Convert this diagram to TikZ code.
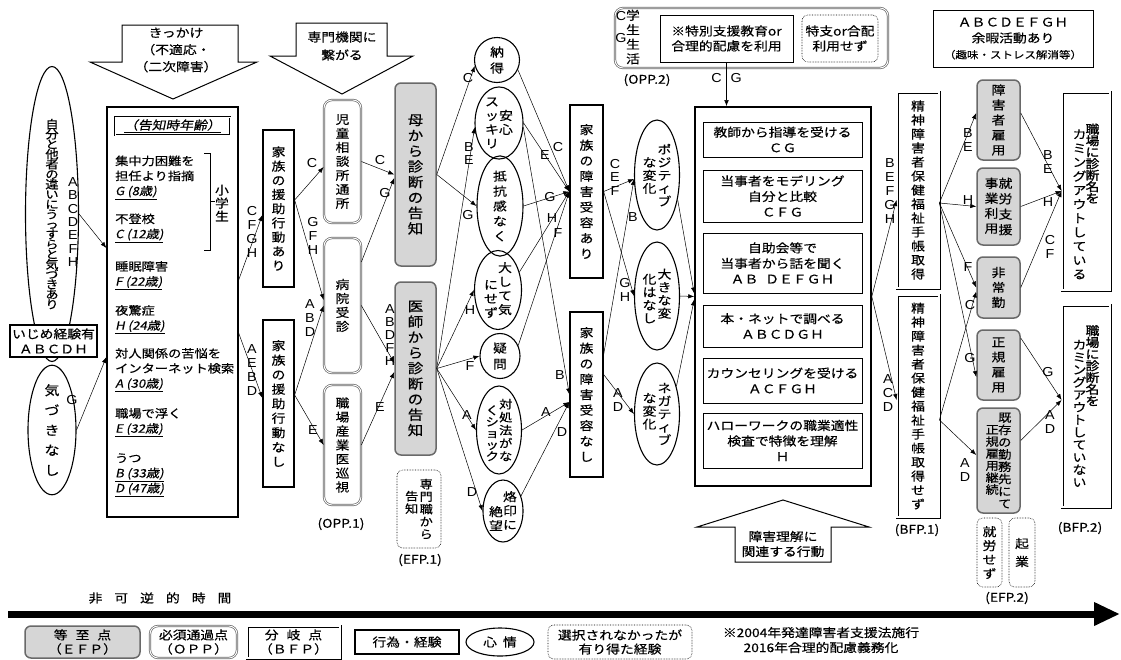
\documentclass[tikz,border=0pt]{standalone}
\usepackage{fontspec}
\setmainfont[FakeStretch=1.15,FakeBold=0.4]{Noto Sans CJK JP}
\newfontfamily\itjp[FakeStretch=1.15,FakeSlant=0.2,FakeBold=0.4]{Noto Sans CJK JP}
\newfontfamily\bfjp[FakeStretch=1.15,FakeBold=1.6]{Noto Sans CJK JP}
\newfontfamily\latin[FakeStretch=1.1]{Liberation Sans}
\usepackage{tikz}
\usetikzlibrary{
  shapes.geometric,
  arrows.meta,
  positioning
}
\definecolor{EfpFill}{RGB}{214,214,214}
\definecolor{EdgeGray}{RGB}{105,105,105}
\newcommand{\jpn}{\fontsize{12}{14}\selectfont}
\newcommand{\padtop}[1]{\rule{0pt}{#1}}

\ExplSyntaxOn
\NewDocumentCommand \tate { O{14pt} m }
  {
    \vtop
      {
        \baselineskip = #1 \scan_stop:
        \lineskiplimit = -\maxdimen
        \tl_map_inline:nn {#2} { \hbox_to_wd:nn { 1em } { \hss ##1 \hss } }
      }
  }
\ExplSyntaxOff

\tikzset{
  act/.style={draw, line width=1.3pt, inner sep=0pt},
  deed/.style={draw, line width=0.8pt, inner sep=0pt, align=center, font=\fontsize{12}{15.5}\selectfont},
  feel/.style={draw, ellipse, line width=1.1pt, inner sep=0pt},
  efp/.style={draw=EdgeGray, fill=EfpFill, line width=1.5pt, rounded corners=6pt, inner sep=0pt},
  opp/.style={draw=EdgeGray, line width=0.7pt, double=white, double distance=0.9pt, rounded corners=8pt, inner sep=0pt},
  bfp/.style={draw, line width=0.8pt, double=white, double distance=1.4pt, inner sep=0pt},
  maybe/.style={draw, densely dotted, line width=0.6pt, rounded corners=6pt, inner sep=0pt},
  sz/.style 2 args={minimum width=#1pt, minimum height=#2pt},
  via/.style={inner sep=0pt, font=\latin\fontsize{13}{14}\selectfont},
  txt/.style={inner sep=0pt, align=center},
  agelist/.style={anchor=west, align=left, inner sep=0pt, font=\fontsize{11.5}{15}\selectfont},
  flow/.style={-{Latex[length=6pt,width=4.5pt]}, line width=0.5pt},
  blockarrow/.style={draw, line width=1pt, fill=white, line join=miter}
}

\begin{document}
\begin{tikzpicture}[x=1pt, y=-1pt, font=\jpn]
\useasboundingbox (0,0) rectangle (1121,659);

\node[feel, sz={53}{295}, font=\fontsize{11.5}{10}\selectfont] (jibun) at (52,214) {\tate[10pt]{自分と他者の違いにうっすらと気づきあり}};
\node[via] (l1) at (73,222) {\tate[13.3pt]{ABCDEFH}};
\node[act, sz={87}{32}, fill=white, align=center, font=\fontsize{12}{15}\selectfont] (ijime) at (53.5,341) {いじめ経験有\\ＡＢＣＤＨ};
\node[feel, sz={48}{122}, font=\fontsize{13}{14}\selectfont] (kizuki) at (52,430) {\tate[20pt]{気づきなし}};
\node[via] (l2) at (72,400) {G};

\draw[blockarrow] (122,25) -- (238,25) -- (238,62) -- (257,62) -- (173,99) -- (90,62) -- (122,62) -- cycle;
\node[txt, font=\fontsize{12}{17}\selectfont] (kikkake) at (176,50) {きっかけ\\（不適応・\\（二次障害）};

\node[act, sz={131}{410}] (kokuchi) at (172.5,312) {};
\node[draw, line width=0.5pt, double=white, double distance=1pt, inner sep=0pt, sz={115}{18}] (nenrei) at (172.5,126) {\underline{\itjp（告知時年齢）}};
\node[agelist] (g1) at (115,177.5) {集中力困難を\\担任より指摘\\\underline{\itjp G (8歳)}};
\node[agelist] (g2) at (115,228) {不登校\\\underline{\itjp C (12歳)}};
\node[agelist] (g3) at (115,275.5) {睡眠障害\\\underline{\itjp F (22歳)}};
\node[agelist] (g4) at (115,319.5) {夜驚症\\\underline{\itjp H (24歳)}};
\node[agelist] (g5) at (115,370) {対人関係の苦悩を\\インターネット検索\\\underline{\itjp A (30歳)}};
\node[agelist] (g6) at (115,422.5) {職場で浮く\\\underline{\itjp E (32歳)}};
\node[agelist] (g7) at (115,475) {うつ\\\underline{\itjp B (33歳)}\\\underline{\itjp D (47歳)}};
\draw (204,153) -- (210,153) -- (210,250) -- (204,250) (210,201) -- (215,201);
\node[inner sep=0pt] (shogaku) at (222,203) {\tate[13pt]{小学生}};

\draw[flow] (jibun.east) -- ([yshift=64pt]kokuchi.west);
\draw[flow] (kizuki.east) -- ([yshift=-45pt]kokuchi.west);

\node[act, sz={31}{157}] (enjoari) at (278.5,208.5) {\tate[14.2pt]{家族の援助行動あり}};
\node[act, sz={31}{167}] (enjonashi) at (278.5,403.5) {\tate[14.5pt]{家族の援助行動なし}};
\draw[flow] ([yshift=32pt]kokuchi.east) -- ([yshift=-6.5pt]enjoari.west);
\node[via] (l3) at (252,232) {\tate[14pt]{CFGH}};
\draw[flow] ([yshift=-21pt]kokuchi.east) -- ([yshift=5.5pt]enjonashi.west);
\node[via] (l4) at (252,370) {\tate[14pt]{AEBD}};

\draw[blockarrow] (296,23) -- (387,23) -- (387,56) -- (413,56) -- (342,94) -- (270,56) -- (296,56) -- cycle;
\node[txt, font=\fontsize{12}{18}\selectfont] (kikan) at (342,46) {専門機関に\\繋がる};

\node[opp, sz={37}{123}] (jido) at (342.5,161.5) {\tate[14pt]{児童相談所通所}};
\node[opp, sz={37}{135}] (byoin) at (342.5,305.5) {\tate[14pt]{病院受診}};
\node[opp, sz={37}{120}] (sangyoi) at (342.5,445) {\tate[14pt]{職場産業医巡視}};
\node[txt] (opp1) at (341,524) {(OPP.1)};
\draw[flow] ([yshift=8.5pt]enjoari.east) -- ([yshift=-5.5pt]jido.west);
\node[via] (l5) at (312,163) {C};
\draw[flow] ([yshift=8.5pt]enjoari.east) -- ([yshift=5.5pt]byoin.west);
\node[via] (l6) at (313,236) {\tate[14pt]{GFH}};
\draw[flow] ([yshift=8.5pt]enjonashi.east) -- (byoin.west);
\node[via] (l7) at (310,318) {\tate[14pt]{ABD}};
\draw[flow] ([yshift=8.5pt]enjonashi.east) -- (sangyoi.west);
\node[via] (l8) at (313,430) {E};

\node[efp, sz={41}{183}, font=\fontsize{13.5}{15}\selectfont] (haha) at (415.5,174.5) {\tate[15.5pt]{母から診断の告知}};
\node[efp, sz={41}{173}, font=\fontsize{13.5}{15}\selectfont] (ishi) at (415.5,368.5) {\tate[15.5pt]{医師から診断の告知}};
\node[maybe, sz={44}{78}, font=\fontsize{11.5}{13}\selectfont] (senmon) at (419,509) {\raisebox{-12pt}{\tate[12.5pt]{告知}}\hspace{3pt}\tate[12.5pt]{専門職から}};
\node[txt] (efp1) at (420,560) {(EFP.1)};
\draw[flow] (jido.east) -- (haha.west);
\node[via] (l9) at (380,160) {C};
\draw[flow] ([yshift=43.5pt]byoin.east) -- ([yshift=-3.5pt]haha.west);
\node[via] (l10) at (385,193) {G};
\draw[flow] (byoin.east) -- ([yshift=5.5pt]ishi.west);
\node[via] (l11) at (390,335) {\tate[13pt]{ABDFH}};
\draw[flow] (sangyoi.east) -- ([yshift=-3.5pt]ishi.west);
\node[via] (l12) at (380,407) {E};

\node[feel, sz={45}{45}] (nattoku) at (497,60) {\tate[16pt]{納得}};
\node[feel, sz={48}{72}] (anshin) at (499,123) {\tate[14pt]{スッキリ}\hspace{2pt}\raisebox{-14pt}{\tate[14pt]{安心}}};
\node[feel, sz={46}{85}] (teiko) at (500,206) {\tate[15pt]{抵抗感なく}};
\node[feel, sz={47}{76}] (taishite) at (498,290) {\raisebox{-17pt}{\tate[14pt]{にせず}}\hspace{2pt}\tate[14pt]{大して気}};
\node[feel, sz={40}{45}] (gimon) at (500,356) {\tate[16pt]{疑問}};
\node[feel, sz={45}{85}, font=\fontsize{11.5}{13}\selectfont] (taisho) at (499,430) {\raisebox{-6pt}{\tate[11.5pt]{くショック}}\hspace{2pt}\tate[13pt]{対処法がな}};
\node[feel, sz={40}{62}] (rakuin) at (503,511) {\raisebox{-15pt}{\tate[14pt]{絶望}}\hspace{2pt}\tate[14pt]{烙印に}};
\draw[flow] (haha.east) -- (nattoku.195);
\node[via] (l13) at (468,78) {C};
\draw[flow] (haha.east) -- (teiko.west);
\node[via] (l14) at (468,215) {G};
\draw[flow] (ishi.east) -- (anshin.190);
\node[via] (l15) at (469,154) {\tate[13pt]{BE}};
\draw[flow] (ishi.east) -- (taishite.west);
\node[via] (l16) at (470,310) {H};
\draw[flow] (ishi.east) -- (gimon.west);
\node[via] (l17) at (470,366) {F};
\draw[flow] (ishi.east) -- (taisho.west);
\node[via] (l18) at (467,415) {A};
\draw[flow] (ishi.east) -- (rakuin.west);
\node[via] (l19) at (472,492) {D};

\node[act, sz={33}{173}] (ukeari) at (586.5,191.5) {\tate[15.5pt]{家族の障害受容あり}};
\node[act, sz={33}{165}] (ukenashi) at (586.5,394.5) {\tate[15.5pt]{家族の障害受容なし}};
\draw[flow] (nattoku.-25) -- (ukeari.west);
\node[via] (l20) at (558,147) {C};
\draw[flow] (anshin.east) -- (ukeari.west);
\node[via] (l21) at (545,155) {E};
\draw[flow] (teiko.east) -- (ukeari.west);
\node[via] (l22) at (550,197) {G};
\draw[flow] (taishite.40) -- (ukeari.west);
\node[via] (l23) at (552,218) {H};
\draw[flow] (gimon.30) -- (ukeari.west);
\node[via] (l24) at (558,233) {F};
\draw[flow] (anshin.-10) -- (ukenashi.west);
\node[via] (l25) at (560,375) {B};
\draw[flow] (taisho.east) -- ([yshift=-7.5pt]ukenashi.west);
\node[via] (l26) at (546,412) {A};
\draw[flow] (rakuin.40) -- ([yshift=-7.5pt]ukenashi.west);
\node[via] (l27) at (562,432) {D};

\node[feel, sz={45}{110}] (positive) at (657,175) {\raisebox{-13pt}{\tate[13pt]{な変化}}\hspace{3pt}\tate[13pt]{ポジティブ}};
\node[feel, sz={45}{108}] (okina) at (657,296) {\raisebox{-5pt}{\tate[13pt]{化はなし}}\hspace{3pt}\tate[13pt]{大きな変}};
\node[feel, sz={45}{102}] (negative) at (657,414) {\raisebox{-10pt}{\tate[13pt]{な変化}}\hspace{3pt}\tate[13pt]{ネガティブ}};
\draw[flow] (ukeari.east) -- (positive.190);
\node[via] (l28) at (615,177) {\tate[13.5pt]{CEF}};
\draw[flow] (ukeari.east) -- (okina.west);
\node[via] (l29) at (625,290) {\tate[14pt]{GH}};
\draw[flow] ([yshift=40pt]ukenashi.east) -- (positive.190);
\node[via] (l30) at (633,217) {B};
\draw[flow] ([yshift=20pt]ukenashi.east) -- (negative.west);
\node[via] (l31) at (618,400) {\tate[14pt]{AD}};

\node[draw, line width=1.6pt, sz={176}{379}] (big) at (783,296.5) {};
\node[deed, sz={159}{35}] (kyoshi) at (782.5,139.5) {教師から指導を受ける\\ＣＧ};
\node[deed, sz={159}{52}] (model) at (782.5,196) {当事者をモデリング\\自分と比較\\ＣＦＧ};
\node[deed, sz={159}{60}] (jijo) at (782.5,263) {自助会等で\\当事者から話を聞く\\ＡＢ\hspace{7pt}ＤＥＦＧＨ};
\node[deed, sz={159}{42}] (hon) at (782.5,326) {本・ネットで調べる\\ＡＢＣＤＧＨ};
\node[deed, sz={159}{45}] (counsel) at (782.5,380.5) {カウンセリングを受ける\\ＡＣＦＧＨ};
\node[deed, sz={159}{55}] (hello) at (782.5,440.5) {ハローワークの職業適性\\検査で特徴を理解\\Ｈ};
\draw[flow] (positive.-50) -- ([yshift=3pt]big.west);
\draw[flow] (okina.east) -- (big.west);
\draw[flow] (negative.55) -- ([yshift=-3pt]big.west);

\node[opp, sz={273}{60}] (gakusei) at (751.5,38) {};
\node[via] (l32) at (621,27) {\tate[22pt]{CG}};
\node[inner sep=0pt] (seikatsu) at (633,37) {\tate[14.5pt]{学生生活}};
\node[deed, sz={133}{47}, font=\fontsize{12}{15}\selectfont] (tokubetsu) at (726.5,38.5) {※特別支援教育or\\合理的配慮を利用};
\node[maybe, sz={76}{47}, align=center, font=\fontsize{12}{15}\selectfont] (tokushi) at (840,38.5) {特支or合配\\利用せず};
\draw[flow] (tokubetsu.south) -- (tokubetsu.south |- big.north);
\node[via] (l33) at (726.5,78) {C\hspace{9pt}G};
\node[txt] (opp2) at (647,80) {(OPP.2)};

\draw[blockarrow] (735,562) -- (735,527) -- (697,527) -- (783,500) -- (869,527) -- (831,527) -- (831,562) -- cycle;
\node[txt, font=\fontsize{12}{15}\selectfont] (rikai) at (783,544) {障害理解に\\関連する行動};

\node[bfp, sz={42}{196}] (techo) at (918,190) {\tate[14pt]{精神障害者保健福祉手帳取得}};
\node[bfp, sz={42}{222}] (techonashi) at (918,406) {\tate[14pt]{精神障害者保健福祉手帳取得せず}};
\node[txt] (bfp1) at (917,530) {(BFP.1)};
\draw[flow] (big.east) -- ([yshift=-10pt]techo.west);
\node[via] (l34) at (890,191) {\tate[14pt]{BEFGH}};
\draw[flow] (big.east) -- ([yshift=6pt]techonashi.west);
\node[via] (l35) at (888,393) {\tate[14pt]{ACD}};

\node[deed, line width=0.6pt, sz={160}{57}, font=\fontsize{12}{16}\selectfont] (yoka) at (1013,38.5) {ＡＢＣＤＥＦＧＨ\\余暇活動あり\\{\fontsize{10}{12}\selectfont（趣味・ストレス解消等）}};

\node[efp, sz={43}{80}] (shogaisha) at (998.5,120) {\tate[15pt]{障害者雇用}};
\node[efp, sz={43}{77}] (shuro) at (998.5,206.5) {\tate[15pt]{事業利用}\hspace{2pt}\tate[15.5pt]{就労支援}};
\node[efp, sz={43}{61}] (hijokin) at (998.5,287.5) {\tate[15pt]{非常勤}};
\node[efp, sz={43}{70}] (seiki) at (998.5,365) {\tate[15pt]{正規雇用}};
\node[efp, sz={43}{105}, font=\fontsize{11.5}{12}\selectfont] (kizon) at (998.5,460.5) {\raisebox{-12pt}{\tate[12pt]{正規雇用継続}}\hspace{1pt}\tate[12.3pt]{既存の勤務先にて}};
\node[maybe, sz={25}{69}] (shurosezu) at (989.5,552.5) {\tate[14pt]{就労せず}};
\node[maybe, sz={26}{69}] (kigyo) at (1022,552.5) {\tate[18pt]{起業}};
\node[txt] (efp2) at (1007,598) {(EFP.2)};
\draw[flow] ([yshift=-13pt]techo.east) -- ([yshift=7pt]shogaisha.west);
\node[via] (l36) at (968,140) {\tate[14pt]{BE}};
\draw[flow] ([yshift=-13pt]techo.east) -- (shuro.west);
\node[via] (l37) at (968,200) {H};
\draw[flow] ([yshift=-13pt]techo.east) -- (hijokin.west);
\node[via] (l38) at (968,267) {F};
\draw[flow] ([yshift=-13pt]techo.east) -- ([yshift=-12pt]seiki.west);
\node[via] (l39) at (970,358) {G};
\draw[flow] ([yshift=-14pt]techonashi.east) -- ([yshift=-4pt]hijokin.west);
\node[via] (l40) at (970,305) {C};
\draw[flow] ([yshift=-14pt]techonashi.east) -- ([yshift=5.5pt]kizon.west);
\node[via] (l41) at (965,470) {\tate[14pt]{AD}};

\node[bfp, sz={48}{198}] (comingout) at (1086,191) {\padtop{36pt}\tate[14pt]{カミングアウトしている}\hspace{1pt}\raisebox{5pt}{\bfjp\tate[11.5pt]{職場に診断名を}}};
\node[bfp, sz={48}{202}] (comingout2) at (1086,406) {\raisebox{-14pt}{\tate[12.5pt]{カミングアウトしていない}}\hspace{1pt}{\bfjp\tate[11.7pt]{職場に診断名を}}};
\node[txt] (bfp2) at (1080,528) {(BFP.2)};
\draw[flow] ([yshift=7pt]shogaisha.east) -- (comingout.west);
\node[via] (l42) at (1048,162) {\tate[14pt]{BE}};
\draw[flow] (shuro.east) -- (comingout.west);
\node[via] (l43) at (1048,202) {H};
\draw[flow] (hijokin.east) -- (comingout.west);
\node[via] (l44) at (1050,247) {\tate[14pt]{CF}};
\draw[flow] ([yshift=27pt]seiki.east) -- ([yshift=6pt]comingout2.west);
\node[via] (l45) at (1048,372) {G};
\draw[flow] ([yshift=20pt]kizon.east) -- ([yshift=6pt]comingout2.west);
\node[via] (l46) at (1050,422) {\tate[14pt]{AD}};

\coordinate (tstart) at (8,614);
\coordinate (tend) at (1120,614);
\draw[line width=7pt, -{Triangle[length=26pt,width=22pt]}] (tstart) -- (tend);
\node[txt] (jikan) at (160,598) {非\hspace{12pt}可\hspace{12pt}逆\hspace{12pt}的\hspace{12pt}時\hspace{12pt}間};

\node[efp, sz={115}{32}, align=center, font=\fontsize{12}{14}\selectfont] (legefp) at (82.5,642) {等\hspace{8pt}至\hspace{8pt}点\\（ＥＦＰ）};
\node[opp, sz={87}{32}, align=center, font=\fontsize{12}{14}\selectfont] (legopp) at (193.5,642) {必須通過点\\（ＯＰＰ）};
\node[bfp, sz={93}{32}, align=center, font=\fontsize{12}{14}\selectfont] (legbfp) at (293.5,642) {分\hspace{8pt}岐\hspace{8pt}点\\（ＢＦＰ）};
\node[act, sz={104}{24}] (legact) at (407,642) {行為・経験};
\node[feel, sz={68}{28}] (legfeel) at (500,642) {心\hspace{6pt}情};
\node[maybe, sz={144}{34}, align=center, font=\fontsize{12}{14}\selectfont] (legmaybe) at (620,642) {選択されなかったが\\有り得た経験};
\node[txt, font=\fontsize{12}{15}\selectfont] (lawnote) at (821,640) {※2004年発達障害者支援法施行\\2016年合理的配慮義務化};
\end{tikzpicture}
\end{document}
